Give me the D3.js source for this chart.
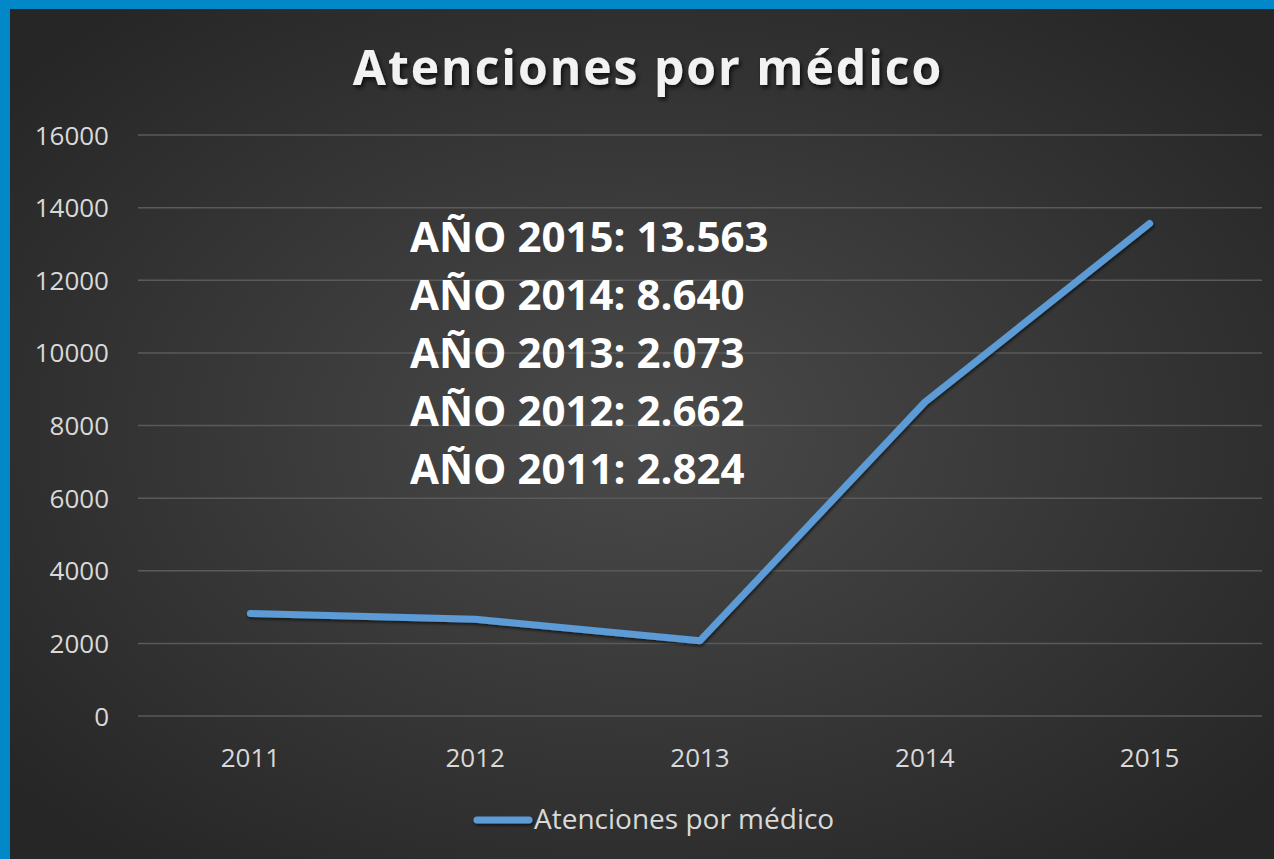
<!DOCTYPE html>
<html>
<head>
<meta charset="utf-8">
<script src="https://cdn.jsdelivr.net/npm/d3@7"></script>
<style>
  html, body { margin: 0; padding: 0; background: #0288c8; }
  svg { display: block; }
</style>
</head>
<body>
<div id="chart"></div>
<script>
"use strict";

const years = ["2011", "2012", "2013", "2014", "2015"];
const atenciones = [2824, 2662, 2073, 8640, 13563];
const yTicks = [0, 2000, 4000, 6000, 8000, 10000, 12000, 14000, 16000];
const notes = ["AÑO 2015: 13.563", "AÑO 2014: 8.640", "AÑO 2013: 2.073", "AÑO 2012: 2.662", "AÑO 2011: 2.824"];
const title = "Atenciones por médico";
const seriesName = "Atenciones por médico";

const W = 1274, H = 859;
const font = "'Open Sans', 'Noto Sans', sans-serif";

const svg = d3.select("#chart").append("svg")
  .attr("width", W)
  .attr("height", H);

const defs = svg.append("defs");

// dark panel, lighter in the middle
const grad = defs.append("radialGradient")
  .attr("id", "bg")
  .attr("cx", "50%").attr("cy", "50%").attr("r", "65%");
grad.append("stop").attr("offset", "0%").attr("stop-color", "#4a4a4a");
grad.append("stop").attr("offset", "100%").attr("stop-color", "#262626");

const shadow = defs.append("filter").attr("id", "shadow")
  .attr("x", "-10%").attr("y", "-10%").attr("width", "120%").attr("height", "130%");
shadow.append("feDropShadow")
  .attr("dx", 2).attr("dy", 3).attr("stdDeviation", 2)
  .attr("flood-color", "#000").attr("flood-opacity", 0.7);

// user space region so it also works on flat, horizontal strokes
const lineShadow = defs.append("filter").attr("id", "lineShadow")
  .attr("filterUnits", "userSpaceOnUse")
  .attr("x", 0).attr("y", 0).attr("width", W).attr("height", H);
lineShadow.append("feDropShadow")
  .attr("dx", 1).attr("dy", 2).attr("stdDeviation", 1.5)
  .attr("flood-color", "#000").attr("flood-opacity", 0.6);

// blue frame, top and left
svg.append("rect").attr("width", W).attr("height", H).attr("fill", "#0288c8");
svg.append("rect")
  .attr("x", 10).attr("y", 9)
  .attr("width", W - 10).attr("height", H - 9)
  .attr("fill", "url(#bg)");

const margin = { left: 138, right: 12, top: 135, bottom: 143 };

const x = d3.scaleBand()
  .domain(years)
  .range([margin.left, W - margin.right]);

const y = d3.scaleLinear()
  .domain([0, 16000])
  .range([H - margin.bottom, margin.top]);

// gridlines
svg.append("g")
  .selectAll("line")
  .data(yTicks)
  .enter().append("line")
  .attr("x1", margin.left)
  .attr("x2", W - margin.right)
  .attr("y1", d => y(d))
  .attr("y2", d => y(d))
  .attr("stroke", "#5a5a5a")
  .attr("stroke-width", 1.5);

// y axis labels
const yAxis = svg.append("g")
  .attr("transform", "translate(" + (margin.left - 29) + ",0)")
  .call(d3.axisLeft(y).tickValues(yTicks).tickFormat(d3.format("d")).tickSize(0).tickPadding(0));
yAxis.select(".domain").remove();
yAxis.selectAll("text")
  .attr("fill", "#d9d9d9")
  .style("font-family", font)
  .style("font-size", "26px")
  .attr("dy", "0.35em");

// x axis labels
const xAxis = svg.append("g")
  .attr("transform", "translate(0," + (H - margin.bottom) + ")")
  .call(d3.axisBottom(x).tickSize(0).tickPadding(33));
xAxis.select(".domain").remove();
xAxis.selectAll("text")
  .attr("fill", "#d9d9d9")
  .style("font-family", font)
  .style("font-size", "26px");

// title
svg.append("text")
  .attr("x", 648)
  .attr("y", 85)
  .attr("text-anchor", "middle")
  .attr("fill", "#f2f2f2")
  .attr("filter", "url(#shadow)")
  .style("font-family", font)
  .style("font-weight", "bold")
  .style("font-size", "48px")
  .style("letter-spacing", "2px")
  .text(title);

// the series
const line = d3.line()
  .x((d, i) => x(years[i]) + x.bandwidth() / 2)
  .y(d => y(d));

svg.append("path")
  .datum(atenciones)
  .attr("d", line)
  .attr("fill", "none")
  .attr("stroke", "#5b9bd5")
  .attr("stroke-width", 7)
  .attr("stroke-linecap", "round")
  .attr("stroke-linejoin", "round")
  .attr("filter", "url(#lineShadow)");

// annotation block
svg.append("g")
  .selectAll("text")
  .data(notes)
  .enter().append("text")
  .attr("x", 410)
  .attr("y", (d, i) => 252 + i * 58)
  .attr("fill", "#ffffff")
  .style("font-family", font)
  .style("font-weight", "bold")
  .style("font-size", "42px")
  .text(d => d);

// legend
const legend = svg.append("g");
legend.append("line")
  .attr("x1", 477).attr("x2", 529)
  .attr("y1", 820).attr("y2", 820)
  .attr("stroke", "#5b9bd5")
  .attr("stroke-width", 7)
  .attr("stroke-linecap", "round")
  .attr("filter", "url(#lineShadow)");
legend.append("text")
  .attr("x", 534)
  .attr("y", 829)
  .attr("fill", "#d9d9d9")
  .style("font-family", font)
  .style("font-size", "28px")
  .text(seriesName);
</script>
</body>
</html>
